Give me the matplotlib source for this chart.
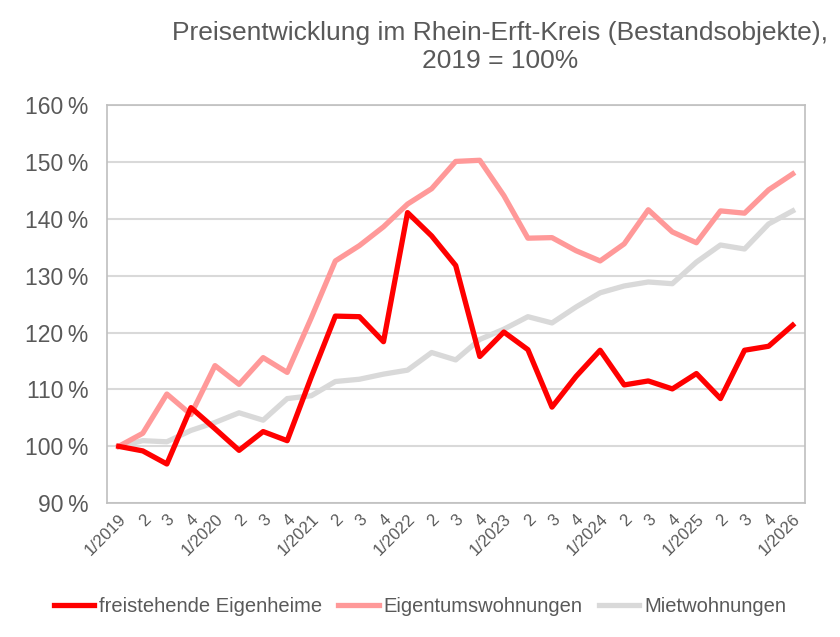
import matplotlib
matplotlib.use("Agg")
import matplotlib.pyplot as plt
from matplotlib.ticker import FuncFormatter

categories = ["1/2019", "2", "3", "4", "1/2020", "2", "3", "4", "1/2021", "2", "3", "4",
              "1/2022", "2", "3", "4", "1/2023", "2", "3", "4", "1/2024", "2", "3", "4",
              "1/2025", "2", "3", "4", "1/2026"]

freistehende = [100, 99.2, 96.9, 106.8, 103.1, 99.3, 102.6, 101.0, 112.2, 122.9, 122.8, 118.4,
                141.1, 137.0, 131.8, 115.8, 120.1, 117.0, 106.9, 112.3, 116.9, 110.8, 111.5,
                110.1, 112.8, 108.4, 116.9, 117.6, 121.3]
eigentum = [100, 102.3, 109.2, 105.6, 114.2, 110.9, 115.6, 113.0, 122.6, 132.6, 135.3, 138.6,
            142.6, 145.3, 150.1, 150.3, 144.1, 136.6, 136.7, 134.4, 132.6, 135.6, 141.6,
            137.7, 135.8, 141.4, 141.0, 145.1, 147.9]
miete = [100, 101.0, 100.8, 102.8, 104.2, 105.9, 104.6, 108.4, 108.9, 111.4, 111.8, 112.7,
         113.4, 116.5, 115.2, 118.8, 120.6, 122.8, 121.7, 124.5, 127.0, 128.2, 128.9,
         128.6, 132.4, 135.4, 134.7, 139.1, 141.4]

series_names = ["freistehende Eigenheime", "Eigentumswohnungen", "Mietwohnungen"]
title = "Preisentwicklung im Rhein-Erft-Kreis (Bestandsobjekte),\n2019 = 100%"

plt.rcParams['font.family'] = ['Liberation Sans', 'DejaVu Sans']
text_color = "#595959"

fig = plt.figure(figsize=(8.4, 6.37), dpi=100)
ax = fig.add_axes([0.127, 0.210, 0.831, 0.625])

x = list(range(len(categories)))
ax.plot(x, miete, color="#D9D9D9", lw=3.8, solid_joinstyle="round", label=series_names[2], zorder=3)
ax.plot(x, eigentum, color="#FF9999", lw=3.8, solid_joinstyle="round", label=series_names[1], zorder=4)
ax.plot(x, freistehende, color="#FF0000", lw=3.8, solid_joinstyle="round", label=series_names[0], zorder=5)

ax.set_xlim(-0.5, len(categories) - 0.5)
ax.set_ylim(90, 160)
ax.set_yticks(range(90, 161, 10))
ax.yaxis.set_major_formatter(FuncFormatter(lambda v, p: f"{int(v)}\u2009%"))
ax.grid(axis="y", color="#D9D9D9", lw=1.5)
ax.set_axisbelow(True)
ax.set_xticks(x)
ax.set_xticklabels(categories, rotation=45, ha="right", rotation_mode="anchor")
ax.tick_params(axis="x", length=0, pad=6, labelsize=12, labelcolor=text_color)
ax.tick_params(axis="y", length=0, pad=13, labelsize=16.5, labelcolor=text_color)
for s in ax.spines.values():
    s.set_color("#BFBFBF")
    s.set_linewidth(1.2)

fig.text(0.595, 0.967, title, ha="center", va="top", fontsize=19, color=text_color, linespacing=1.2)

handles, labels = ax.get_legend_handles_labels()
order = [2, 1, 0]
leg = fig.legend([handles[i] for i in order], [labels[i] for i in order], loc="center",
                 bbox_to_anchor=(0.5, 0.048), ncol=3, frameon=False, fontsize=14.5,
                 handlelength=2.0, columnspacing=0.8, handletextpad=0.25)
for t in leg.get_texts():
    t.set_color(text_color)

fig.savefig("out.png", dpi=100)
